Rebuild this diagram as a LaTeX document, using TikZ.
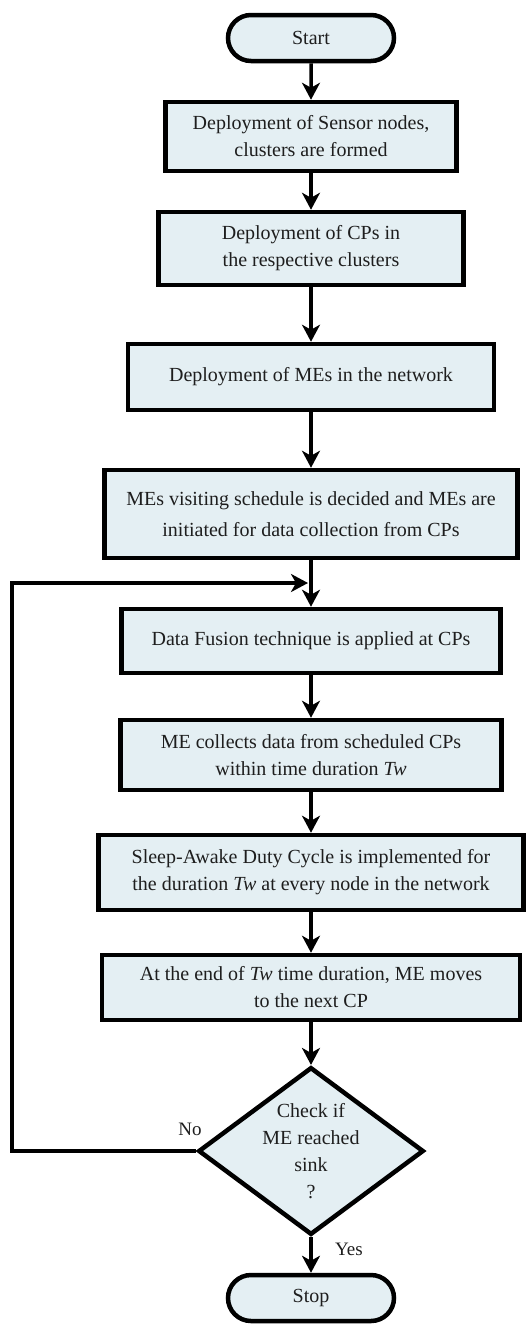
\documentclass[tikz,border=0pt]{standalone}
\usepackage{fontspec}
\setmainfont{Liberation Serif}
\usetikzlibrary{shapes.geometric,shapes.misc,arrows.meta}
\definecolor{boxfill}{RGB}{228,239,243}
\definecolor{txt}{RGB}{30,30,30}
\begin{document}
\begin{tikzpicture}[x=1pt,y=-1pt,
  every node/.style={font=\fontsize{20}{27}\selectfont, text=txt},
  proc/.style={draw=black, line width=4.5pt, fill=boxfill, rectangle, align=center, inner sep=0pt},
  term/.style={draw=black, line width=4.5pt, fill=boxfill, rounded rectangle, minimum width=166pt, minimum height=46pt, inner sep=0pt},
  dec/.style={draw=black, line width=4.5pt, fill=boxfill, diamond, shape aspect=1.345, minimum width=222pt, minimum height=164pt, inner sep=0pt, align=center},
  flow/.style={line width=3.5pt, -{Stealth[length=17pt,width=18pt,inset=5pt]}},
  lbl/.style={font=\fontsize{19}{22}\selectfont}
]
\useasboundingbox (0,0) rectangle (530,1325);
\fill[white] (0,0) rectangle (530,1325);

\node[term] (start) at (311,38) {Start};
\node[proc, minimum width=291pt, minimum height=69pt] (b1) at (311,136.5) {Deployment of Sensor nodes,\\ clusters are formed};
\node[proc, minimum width=305pt, minimum height=73pt] (b2) at (311,248.5) {Deployment of CPs in\\ the respective clusters};
\node[proc, minimum width=366pt, minimum height=66pt] (b3) at (311,377) {Deployment of MEs in the network};
\node[proc, minimum width=413pt, minimum height=88pt] (b4) at (311,514) {MEs visiting schedule is decided and MEs are\\[4pt] initiated for data collection from CPs};
\coordinate (join) at (311,583);
\coordinate (loopL) at (12,583);
\node[proc, minimum width=379pt, minimum height=64pt] (b5) at (311,641) {Data Fusion technique is applied at CPs};
\node[proc, minimum width=381pt, minimum height=70pt] (b6) at (311,755) {ME collects data from scheduled CPs\\ within time duration \textit{Tw}};
\node[proc, minimum width=425pt, minimum height=75pt] (b7) at (311,872.5) {Sleep-Awake Duty Cycle is implemented for\\ the duration \textit{Tw} at every node in the network};
\node[proc, minimum width=418pt, minimum height=65pt] (b8) at (311,987.5) {At the end of \textit{Tw} time duration, ME moves\\ to the next CP};
\node[dec] (dia) at (311,1151) {Check if\\ ME reached\\ sink\\ ?};
\node[term] (stop) at (311,1298) {Stop};

\node[lbl] (no) at (190,1129) {No};
\node[lbl] (yes) at (349,1249) {Yes};

\draw[flow] (start) -- (b1);
\draw[flow] (b1) -- (b2);
\draw[flow] (b2) -- (b3);
\draw[flow] (b3) -- (b4);
\draw[flow] (b4) -- (b5);
\draw[flow] (b5) -- (b6);
\draw[flow] (b6) -- (b7);
\draw[flow] (b7) -- (b8);
\draw[flow] (b8) -- (dia);
\draw[flow] (dia) -- (stop);
\draw[flow, shorten >=3pt] (dia.west) -| (loopL) -- (join);
\end{tikzpicture}
\end{document}
